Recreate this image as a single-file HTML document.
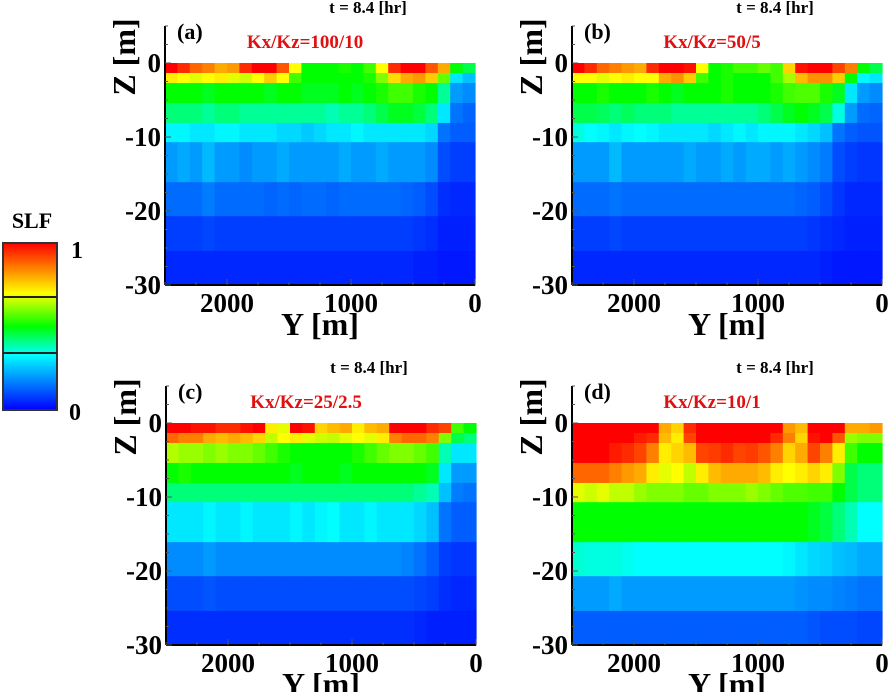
<!DOCTYPE html>
<html><head><meta charset="utf-8"><style>
html,body{margin:0;padding:0;background:#fff;}
svg{display:block;font-family:"Liberation Serif",serif;font-weight:bold;}
</style></head><body>
<svg id="fig" width="889" height="692" viewBox="0 0 889 692">
<defs><linearGradient id="cb" x1="0" y1="1" x2="0" y2="0">
<stop offset="0" stop-color="#0000ff"/><stop offset="0.33" stop-color="#00ffff"/><stop offset="0.5" stop-color="#00ff00"/><stop offset="0.7" stop-color="#ffff00"/><stop offset="1" stop-color="#ff0000"/></linearGradient></defs>
<g>
<text x="32" y="228" font-size="22" text-anchor="middle">SLF</text>
<rect x="3" y="243" width="54" height="167" fill="url(#cb)" stroke="#333" stroke-width="2"/>
<line x1="3" y1="297" x2="57" y2="297" stroke="#222" stroke-width="2"/>
<line x1="3" y1="353" x2="57" y2="353" stroke="#222" stroke-width="2"/>
<text x="77" y="258" font-size="24" text-anchor="middle">1</text>
<text x="75" y="420" font-size="24" text-anchor="middle">0</text>
</g>
</svg>
<script>
const zBounds=[0,1.35,2.7,5.4,8.1,10.7,16.1,20.7,25.4,30];
const yTicks=[2000,1000,0];
const zTicks=[0,-10,-20,-30];
const panelLetters=["(a)","(b)","(c)","(d)"];
const ratioLabels=["Kx/Kz=100/10","Kx/Kz=50/5","Kx/Kz=25/2.5","Kx/Kz=10/1"];
const timeLabel="t = 8.4 [hr]";
const dataA=[
[1,.95,.88,.85,.8,.82,.95,1,1,.9,.7,.5,.5,.5,.52,.5,.55,.7,.95,1,1,.9,.8,.5,.45],
[.72,.7,.68,.7,.72,.68,.66,.7,.76,.7,.55,.5,.5,.5,.5,.5,.52,.6,.74,.8,.82,.76,.58,.3,.25],
[.5,.5,.5,.48,.5,.5,.5,.5,.48,.5,.5,.48,.48,.48,.5,.48,.5,.52,.55,.55,.52,.5,.4,.2,.18],
[.42,.42,.42,.4,.42,.42,.4,.4,.4,.4,.4,.4,.4,.38,.4,.4,.42,.45,.48,.48,.46,.42,.3,.15,.13],
[.32,.32,.3,.3,.32,.32,.3,.3,.3,.28,.28,.26,.28,.3,.3,.32,.3,.3,.3,.3,.3,.28,.15,.12,.12],
[.2,.22,.2,.24,.2,.2,.18,.2,.2,.22,.2,.2,.2,.2,.22,.2,.2,.22,.2,.2,.2,.18,.1,.08,.08],
[.14,.14,.14,.16,.14,.14,.14,.14,.13,.14,.13,.14,.14,.13,.14,.14,.14,.14,.14,.13,.12,.1,.06,.05,.05],
[.08,.08,.08,.09,.08,.08,.08,.08,.08,.08,.08,.08,.08,.08,.08,.08,.08,.08,.08,.08,.07,.06,.04,.04,.04],
[.05,.05,.05,.05,.05,.05,.05,.05,.05,.05,.05,.05,.05,.05,.05,.05,.05,.05,.05,.05,.04,.04,.03,.03,.03]];
const dataB=[
[1,.95,.88,.85,.82,.8,.95,1,1,.98,.7,.5,.52,.55,.55,.58,.55,.75,.98,1,1,.92,.85,.5,.45],
[.7,.7,.68,.7,.72,.7,.7,.8,.83,.76,.55,.5,.52,.5,.5,.5,.55,.63,.78,.83,.83,.76,.5,.32,.3],
[.5,.5,.52,.5,.5,.5,.52,.5,.48,.5,.5,.5,.52,.5,.5,.5,.52,.55,.56,.56,.52,.48,.3,.2,.18],
[.45,.45,.44,.42,.44,.42,.42,.42,.4,.4,.4,.4,.4,.4,.4,.42,.45,.48,.5,.48,.45,.35,.2,.14,.13],
[.35,.33,.32,.3,.32,.33,.32,.3,.3,.3,.3,.28,.3,.32,.3,.32,.32,.32,.3,.28,.25,.15,.12,.11,.11],
[.2,.2,.2,.24,.2,.2,.2,.2,.2,.22,.2,.2,.22,.2,.22,.22,.2,.22,.2,.18,.16,.1,.08,.07,.07],
[.14,.14,.14,.15,.14,.14,.14,.14,.14,.14,.14,.14,.14,.14,.14,.14,.14,.14,.13,.12,.1,.07,.05,.05,.05],
[.08,.08,.08,.09,.08,.08,.08,.08,.08,.08,.08,.08,.08,.08,.08,.08,.08,.08,.08,.07,.06,.05,.04,.04,.04],
[.05,.05,.05,.05,.05,.05,.05,.05,.05,.05,.05,.05,.05,.05,.05,.05,.05,.05,.05,.05,.04,.03,.03,.03,.03]];
const dataC=[
[1,1,.98,.98,.95,.95,.98,1,.72,.68,1,.98,.75,.78,.8,.72,.78,.8,1,1,1,.95,.92,.55,.5],
[.88,.85,.85,.8,.78,.8,.78,.75,.65,.7,.72,.68,.66,.65,.68,.7,.68,.72,.85,.88,.88,.85,.6,.45,.42],
[.64,.62,.62,.6,.62,.6,.6,.58,.55,.52,.5,.5,.5,.5,.5,.52,.55,.58,.6,.6,.58,.55,.38,.3,.3],
[.5,.52,.5,.5,.5,.5,.5,.5,.5,.5,.48,.5,.5,.5,.48,.5,.5,.5,.5,.5,.5,.48,.3,.2,.2],
[.42,.42,.42,.42,.42,.42,.42,.42,.42,.42,.42,.42,.42,.42,.42,.42,.42,.42,.42,.42,.4,.38,.25,.16,.15],
[.3,.3,.3,.32,.3,.3,.32,.3,.3,.3,.32,.3,.32,.33,.3,.3,.32,.3,.3,.3,.28,.25,.15,.12,.12],
[.18,.18,.18,.2,.18,.18,.18,.18,.18,.18,.18,.18,.18,.18,.18,.18,.18,.18,.18,.17,.15,.12,.08,.07,.07],
[.1,.1,.1,.11,.1,.1,.1,.1,.1,.1,.1,.1,.1,.1,.1,.1,.1,.1,.1,.1,.09,.08,.06,.05,.05],
[.06,.06,.06,.06,.06,.06,.06,.06,.06,.06,.06,.06,.06,.06,.06,.06,.06,.06,.06,.06,.05,.04,.04,.04,.04]];
const dataD=[
[1,1,1,1,1,1,1,.8,.75,.95,1,1,1,1,1,1,1,.82,.78,1,1,1,.8,.8,.82],
[1,1,1,1,1,.97,.95,.78,.72,.92,1,1,1,1,1,1,.95,.85,.75,.98,1,.9,.62,.6,.6],
[1,1,1,.97,.95,.92,.85,.72,.75,.78,.92,.93,.95,.92,.93,.9,.85,.75,.8,.92,.85,.72,.55,.5,.5],
[.88,.88,.88,.85,.82,.8,.72,.68,.7,.65,.72,.78,.8,.8,.8,.78,.72,.7,.72,.75,.72,.6,.45,.42,.42],
[.68,.66,.68,.65,.65,.62,.6,.6,.6,.58,.58,.6,.6,.6,.62,.6,.58,.56,.56,.55,.55,.5,.45,.42,.42],
[.5,.5,.5,.5,.5,.5,.5,.5,.5,.5,.5,.5,.5,.5,.5,.5,.5,.5,.5,.48,.46,.42,.38,.33,.33],
[.36,.35,.35,.35,.34,.33,.33,.33,.33,.33,.33,.33,.33,.33,.33,.33,.33,.32,.3,.28,.27,.25,.24,.22,.22],
[.2,.2,.2,.22,.2,.2,.2,.2,.2,.2,.2,.2,.2,.2,.2,.2,.2,.2,.19,.18,.18,.17,.16,.15,.15],
[.12,.12,.12,.12,.12,.12,.12,.12,.12,.12,.12,.12,.12,.12,.12,.12,.12,.12,.12,.11,.1,.1,.1,.09,.09]];
const panelData=[dataA,dataB,dataC,dataD];

const NS="http://www.w3.org/2000/svg";
const svg=document.getElementById('fig');
const stops=[[0,[0,0,255]],[0.33,[0,255,255]],[0.5,[0,255,0]],[0.7,[255,255,0]],[1,[255,0,0]]];
function color(v){v=Math.max(0,Math.min(1,v));for(let i=1;i<stops.length;i++){if(v<=stops[i][0]){const a=stops[i-1],b=stops[i];const t=(v-a[0])/(b[0]-a[0]);const c=a[1].map((x,k)=>Math.round(x+(b[1][k]-x)*t));return `rgb(${c[0]},${c[1]},${c[2]})`;}}return 'rgb(255,0,0)';}
function mk(tag,attrs,parent){const e=document.createElementNS(NS,tag);for(const k in attrs)e.setAttribute(k,attrs[k]);parent.appendChild(e);return e;}
const origins=[[165,63],[572,63],[166,423],[572,423]];
const W=310,H=222,YMAX=2500,ZMIN=-30;
panelData.forEach((data,p)=>{
  const [ox,oy]=origins[p];
  const xs=y=>ox+(YMAX-y)/YMAX*W;
  const zs=z=>oy+(-z)/(-ZMIN)*H;
  const g=mk('g',{},svg);
  
  
  const ncol=data[0].length, dy=YMAX/ncol;
  data.forEach((row,r)=>{
    row.forEach((v,c)=>{
      const x0=xs(YMAX-c*dy), x1=xs(YMAX-(c+1)*dy);
      const y0=zs(-zBounds[r]), y1=zs(-zBounds[r+1]);
      const rc=mk('rect',{x:x0,y:y0,width:x1-x0+0.6,height:y1-y0+0.4,fill:color(v)},g);
      
      
    });
  });
  mk('line',{x1:ox,y1:zs(5),x2:ox,y2:zs(-30),stroke:'#000','stroke-width':2},g);
  mk('line',{x1:ox,y1:zs(-30),x2:ox+W,y2:zs(-30),stroke:'#000','stroke-width':2},g);
  for(let z=5;z>=-30;z-=2.5){const m=(z%10===0);mk('line',{x1:ox,y1:zs(z),x2:ox+(m?6:3),y2:zs(z),stroke:'#555','stroke-width':1},g);}
  for(let y=2500;y>=0;y-=250){const m=(y%1000===0);mk('line',{x1:xs(y),y1:zs(-30),x2:xs(y),y2:zs(-30)-(m?6:3),stroke:'#555','stroke-width':1},g);}
  zTicks.forEach(z=>{const t=mk('text',{x:ox-4,y:zs(z)+9,'font-size':27,'text-anchor':'end'},g);t.textContent=z;
    });
  yTicks.forEach(y=>{const t=mk('text',{x:xs(y),y:zs(-30)+27,'font-size':27,'text-anchor':'middle'},g);t.textContent=y;
    });
  const xl=mk('text',{x:ox+155,y:zs(-30)+50,'font-size':32,'text-anchor':'middle'},g);xl.textContent='Y [m]';
  
  const yl=mk('text',{x:0,y:0,'font-size':32,'text-anchor':'middle',transform:`translate(${ox-30},${oy-6}) rotate(-90)`},g);yl.textContent='Z [m]';
  
  const tt=mk('text',{x:ox+203,y:oy-50,'font-size':17,'text-anchor':'middle'},g);tt.textContent=timeLabel;
  
  const pl=mk('text',{x:ox+12,y:oy-24,'font-size':22},g);pl.textContent=panelLetters[p];
  
  const kl=mk('text',{x:ox+140,y:oy-15,'font-size':19,'text-anchor':'middle',fill:'#e01010'},g);kl.textContent=ratioLabels[p];
  
});
</script>
</body></html>
